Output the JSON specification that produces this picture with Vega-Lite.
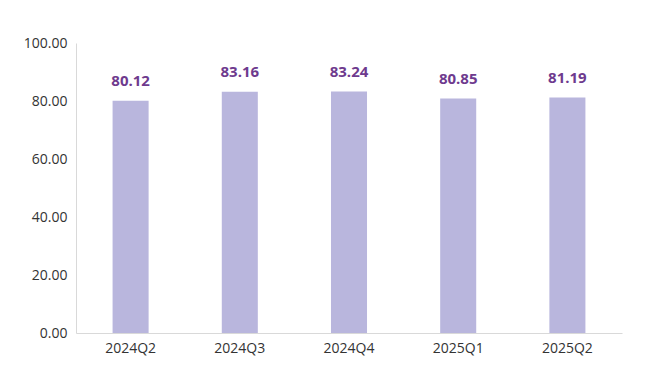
{
  "$schema": "https://vega.github.io/schema/vega-lite/v6.json",
  "autosize": {"type": "none"},
  "width": 546,
  "height": 290,
  "padding": {"left": 76, "top": 43, "right": 38, "bottom": 39},
  "background": "#ffffff",
  "config": {"view": {"stroke": null}, "font": "Open Sans"},
  "data": {"values": [
    {"q": "2024Q2", "v": 80.12},
    {"q": "2024Q3", "v": 83.16},
    {"q": "2024Q4", "v": 83.24},
    {"q": "2025Q1", "v": 80.85},
    {"q": "2025Q2", "v": 81.19}
  ]},
  "encoding": {
    "x": {"field": "q", "type": "nominal", "sort": null,
      "scale": {"paddingInner": 0.67, "paddingOuter": 0.335},
      "axis": {"title": null, "labelAngle": 0, "labelFontSize": 14, "labelColor": "#333333", "labelPadding": 8, "ticks": false, "domainColor": "#d9d9d9", "labelFont": "Open Sans"}},
    "y": {"field": "v", "type": "quantitative",
      "scale": {"domain": [0, 100]},
      "axis": {"title": null, "values": [0, 20, 40, 60, 80, 100], "format": ".2f", "grid": false, "ticks": false, "labelFontSize": 14, "labelColor": "#333333", "labelPadding": 9, "domainColor": "#d9d9d9", "labelFont": "Open Sans"}}
  },
  "layer": [
    {"mark": {"type": "bar", "color": "#b9b6dd"}},
    {"mark": {"type": "text", "dy": -12, "fontSize": 15, "fontWeight": "bold", "color": "#6e3a8e", "baseline": "bottom", "font": "Open Sans"},
      "encoding": {"text": {"field": "v", "type": "quantitative", "format": ".2f"}}}
  ]
}
